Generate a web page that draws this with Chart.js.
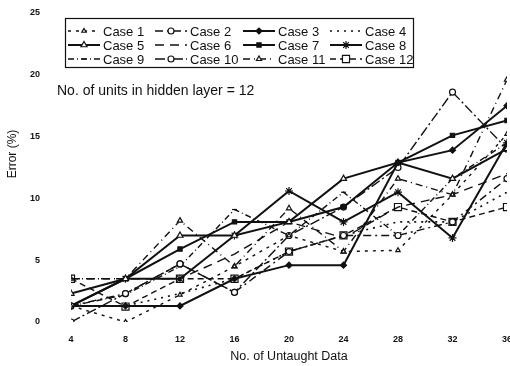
<!DOCTYPE html>
<html>
<head>
<meta charset="utf-8">
<script src="https://cdn.jsdelivr.net/npm/chart.js@4.4.0/dist/chart.umd.min.js"></script>
<style>
  html, body { margin: 0; padding: 0; background: #fff; overflow: hidden; }
  #wrap { width: 524px; height: 366px; }
</style>
</head>
<body>
<div id="wrap"><canvas id="errChart" width="524" height="366"></canvas></div>
<script>
// untaught data counts on the x axis
const untaught = [4, 8, 12, 16, 20, 24, 28, 32, 36];
const yTicks = [0, 5, 10, 15, 20, 25];

// error (%) per case
const case1  = [1.3, 0.0, 2.2, 4.5, 7.0, 5.7, 5.8, 10.3, 15.2];
const case2  = [1.3, 2.3, 4.7, 2.4, 5.7, 7.0, 7.0, 8.1, 11.6];
const case3  = [1.3, 1.3, 1.3, 3.5, 4.6, 4.6, 12.9, 13.9, 17.5];
const case4  = [1.3, 1.3, 2.3, 3.5, 5.7, 7.0, 8.1, 8.1, 10.5];
const case5  = [2.3, 3.5, 7.0, 7.0, 8.1, 11.6, 12.9, 11.6, 14.0];
const case6  = [3.5, 3.5, 3.5, 5.5, 8.1, 6.8, 9.3, 10.3, 12.0];
const case7  = [1.3, 3.5, 5.9, 8.1, 8.1, 9.3, 12.9, 15.1, 16.3];
const case8  = [1.3, 3.5, 3.5, 7.0, 10.6, 8.1, 10.5, 6.8, 14.5];
const case9  = [1.3, 2.2, 4.5, 9.1, 7.0, 10.5, 7.0, 11.6, 14.5];
const case10 = [0.0, 2.3, 4.7, 2.4, 7.0, 9.3, 12.5, 18.6, 14.0];
const case11 = [3.5, 3.5, 8.2, 4.5, 9.2, 5.7, 11.6, 10.3, 19.6];
const case12 = [3.5, 1.25, 3.5, 3.5, 5.7, 7.0, 9.3, 8.1, 9.3];

const ink = '#111';
const font = '"Liberation Sans", Arial, sans-serif';

function series(label, values, style) {
  return Object.assign({
    label: label,
    data: values.map((v, i) => ({ x: untaught[i], y: v })),
    borderColor: ink,
    backgroundColor: '#fff',
    pointBorderColor: ink,
    pointBackgroundColor: '#fff',
    borderWidth: 1.4,
    pointRadius: 3,
    pointBorderWidth: 1.2,
    borderDash: [],
    pointStyle: false,
    tension: 0
  }, style);
}

const datasets = [
  series('Case 1', case1, { borderDash: [3, 5], pointStyle: 'triangle', pointRadius: 2.5 }),
  series('Case 2', case2, { borderDash: [8, 4, 2, 4], pointStyle: 'circle' }),
  series('Case 3', case3, { borderWidth: 2, pointStyle: 'rectRot', pointBackgroundColor: ink }),
  series('Case 4', case4, { borderDash: [2, 5], borderWidth: 1.6 }),
  series('Case 5', case5, { borderWidth: 2, pointStyle: 'triangle', pointRadius: 3.5 }),
  series('Case 6', case6, { borderDash: [9, 6] }),
  series('Case 7', case7, { borderWidth: 2, pointStyle: 'rect', pointBackgroundColor: ink }),
  series('Case 8', case8, { borderWidth: 2, pointStyle: 'star', pointRadius: 4 }),
  series('Case 9', case9, { borderDash: [6, 3, 1, 3], pointStyle: 'line', pointRadius: 2.5 }),
  series('Case 10', case10, { borderDash: [10, 3, 2, 3], pointStyle: 'circle' }),
  series('Case 11', case11, { borderDash: [7, 4, 1, 4], pointStyle: 'triangle', pointRadius: 3 }),
  series('Case 12', case12, { borderDash: [6, 4], pointStyle: 'rect', pointRadius: 5 })
];

// boxed 3x4 legend, the hidden-layer note and the y title
const decorations = {
  id: 'decorations',
  afterDraw(chart) {
    const ctx = chart.ctx;
    const drawPoint = Chart.helpers && Chart.helpers.drawPoint;
    ctx.save();
    ctx.fillStyle = '#fff';
    ctx.fillRect(65, 18, 349, 50);
    ctx.strokeStyle = ink;
    ctx.lineWidth = 1.2;
    ctx.strokeRect(65.5, 18.5, 348, 49);

    const colX = [68, 155, 243, 330];
    const rowY = [31, 45, 59];
    ctx.font = '13px ' + font;
    ctx.textBaseline = 'middle';
    chart.data.datasets.forEach((ds, i) => {
      const x0 = colX[i % 4];
      const y = rowY[Math.floor(i / 4)];
      ctx.strokeStyle = ink;
      ctx.lineWidth = ds.borderWidth;
      ctx.setLineDash(ds.borderDash);
      ctx.beginPath();
      ctx.moveTo(x0, y);
      ctx.lineTo(x0 + 32, y);
      ctx.stroke();
      ctx.setLineDash([]);
      if (ds.pointStyle && drawPoint) {
        ctx.fillStyle = ds.pointBackgroundColor;
        ctx.strokeStyle = ink;
        ctx.lineWidth = ds.pointBorderWidth;
        drawPoint(ctx, { pointStyle: ds.pointStyle, radius: ds.pointRadius, rotation: 0, borderWidth: ds.pointBorderWidth }, x0 + 16, y);
      }
      ctx.fillStyle = ink;
      ctx.fillText(ds.label, x0 + 35, y + 1);
    });

    ctx.font = '14px ' + font;
    ctx.fillText('No. of units in hidden layer = 12', 57, 91);

    ctx.translate(13, 154);
    ctx.rotate(-Math.PI / 2);
    ctx.textAlign = 'center';
    ctx.font = '12px ' + font;
    ctx.fillText('Error (%)', 0, 0);
    ctx.restore();
  }
};

new Chart(document.getElementById('errChart').getContext('2d'), {
  type: 'line',
  data: { datasets: datasets },
  options: {
    responsive: false,
    animation: false,
    layout: { padding: { top: 0, left: 0, right: 0, bottom: 0 } },
    plugins: {
      legend: { display: false },
      tooltip: { enabled: false }
    },
    scales: {
      x: {
        type: 'linear',
        min: 4,
        max: 36,
        afterFit(scale) { scale.height = 44; },
        grid: { display: false, drawTicks: false },
        border: { display: false },
        ticks: {
          stepSize: 4,
          maxRotation: 0,
          padding: 12,
          color: ink,
          font: { family: font, size: 9, weight: 'bold' }
        },
        title: {
          display: true,
          text: 'No. of Untaught Data',
          color: ink,
          padding: { top: 0, bottom: 2 },
          font: { family: font, size: 12.5 }
        }
      },
      y: {
        min: 0,
        max: 25,
        afterFit(scale) {
          // wide tick gap would otherwise push the plot top down
          scale.width = 71;
          scale.paddingTop = 13;
          scale.paddingBottom = 0;
        },
        afterBuildTicks(scale) { scale.ticks = yTicks.map(v => ({ value: v })); },
        grid: { display: false, drawTicks: false },
        border: { display: false },
        ticks: {
          padding: 31,
          color: ink,
          font: { family: font, size: 9, weight: 'bold' }
        }
      }
    }
  },
  plugins: [decorations]
});
</script>
</body>
</html>
